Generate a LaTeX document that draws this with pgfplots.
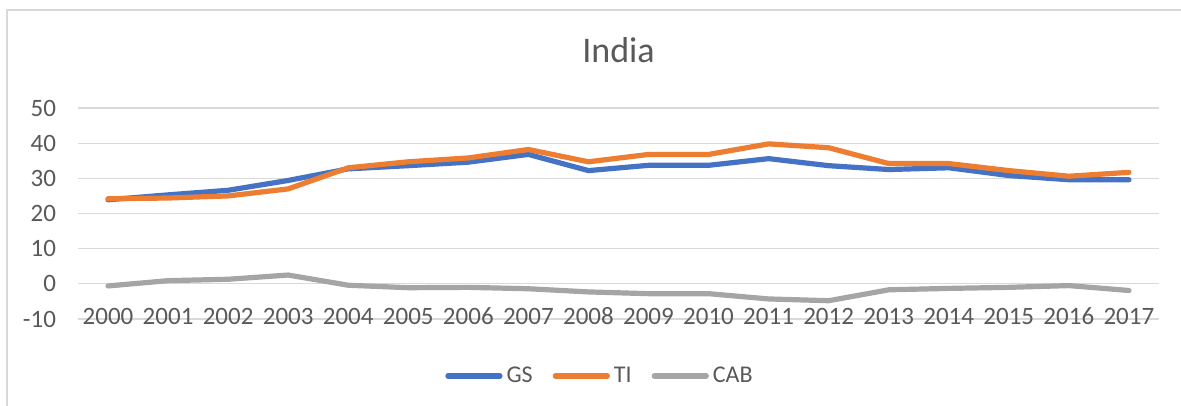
\documentclass[border=0pt]{standalone}
\usepackage{fontspec}
\setmainfont{Carlito}
\usepackage{pgfplots}
\pgfplotsset{compat=1.18}
\usepackage{pgfplotstable}
\definecolor{cBlue}{HTML}{4472C4}
\definecolor{cOrange}{HTML}{ED7D31}
\definecolor{cGray}{HTML}{A5A5A5}
\definecolor{cText}{HTML}{595959}
\definecolor{cGrid}{HTML}{D9D9D9}
\pgfplotstableread{
Year GS TI CAB
2000 23.9 24.2 -0.6
2001 25.3 24.4 0.9
2002 26.6 25.0 1.3
2003 29.4 27.0 2.5
2004 32.7 33.0 -0.4
2005 33.6 34.7 -1.1
2006 34.6 35.8 -1.0
2007 36.8 38.2 -1.4
2008 32.2 34.7 -2.3
2009 33.7 36.8 -2.8
2010 33.7 36.8 -2.8
2011 35.6 39.8 -4.3
2012 33.6 38.7 -4.8
2013 32.5 34.2 -1.7
2014 33.0 34.2 -1.3
2015 30.8 32.2 -1.0
2016 29.6 30.6 -0.5
2017 29.6 31.7 -1.9
}\datatable
\begin{document}
\begin{tikzpicture}
\useasboundingbox (0,0) rectangle (590.5pt,203pt);
\draw[cGrid, line width=0.6pt] (3.5pt,-2pt) rectangle (593pt,198pt);
\begin{axis}[
  at={(39pt,43.5pt)}, anchor=south west,
  scale only axis, width=540.5pt, height=105.5pt,
  xmin=1999.5, xmax=2017.5, ymin=-10, ymax=50,
  axis line style={draw=none},
  major tick length=0pt,
  xtick={2000,...,2017},
  xticklabels={2000,2001,2002,2003,2004,2005,2006,2007,2008,2009,2010,2011,2012,2013,2014,2015,2016,2017},
  ytick={-10,0,10,20,30,40,50},
  yticklabels={-10,0,10,20,30,40,50},
  ymajorgrids, grid style={cGrid, line width=0.6pt},
  tick label style={font=\fontsize{12.5}{14}\selectfont, text=cText},
  xticklabel style={anchor=center, yshift=1.5pt},
  yticklabel style={anchor=east, xshift=-7.5pt},
  title={India},
  title style={at={(0.5,1.218)}, anchor=center, font=\fontsize{18}{21}\selectfont, text=cText},
  legend columns=3,
  legend style={at={(0.4838,-0.27)}, anchor=center, draw=none, fill=none,
    font=\fontsize{12}{14}\selectfont, text=cText,
    /tikz/every even column/.append style={column sep=8pt}},
  legend image code/.code={\draw[#1, line cap=round] (0pt,0pt) -- (26pt,0pt);},
  every axis plot/.append style={line width=2.6pt, line join=round, line cap=round, mark=none},
]
\addplot[cBlue] table[x=Year, y=GS] {\datatable};
\addlegendentry{GS}
\addplot[cOrange] table[x=Year, y=TI] {\datatable};
\addlegendentry{TI}
\addplot[cGray] table[x=Year, y=CAB] {\datatable};
\addlegendentry{CAB}
\end{axis}
\end{tikzpicture}
\end{document}
